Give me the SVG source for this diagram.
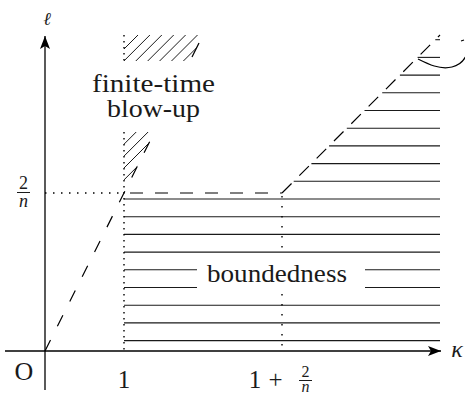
<svg xmlns="http://www.w3.org/2000/svg" width="465" height="398" viewBox="0 0 465 398">
<style>
.ax{stroke:#000;stroke-width:1.3;fill:none}
.hl{stroke:#1a1a1a;stroke-width:1.1;fill:none}
.ht{stroke:#1a1a1a;stroke-width:1;fill:none}
.dash{stroke:#000;stroke-width:1.2;fill:none}
.dot{stroke:#000;stroke-width:1.4;fill:none}
text{fill:#1a1a1a}
</style>
<defs>
<marker id="arr" viewBox="-14 -6 15 12" refX="0" refY="0" markerWidth="15" markerHeight="12" markerUnits="userSpaceOnUse" orient="auto">
<path d="M0,0 L-13,-5 L-10,0 L-13,5 Z" fill="#000"/>
</marker>
<clipPath id="clipTop"><polygon points="124,35 203,35 190.5,61 124,61"/></clipPath>
<clipPath id="clipLow"><polygon points="124,132 154.5,132 124,193"/></clipPath>
</defs>

<g id="blowup-region">
<g clip-path="url(#clipTop)" class="ht">
<line x1="100" y1="73" x2="250" y2="-77"/>
<line x1="100" y1="84.9" x2="250" y2="-65.1"/>
<line x1="100" y1="96.8" x2="250" y2="-53.2"/>
<line x1="100" y1="108.7" x2="250" y2="-41.3"/>
<line x1="100" y1="120.6" x2="250" y2="-29.4"/>
<line x1="100" y1="132.5" x2="250" y2="-17.5"/>
<line x1="100" y1="144.4" x2="250" y2="-5.6"/>
</g>
<g clip-path="url(#clipLow)" class="ht">
<line x1="100" y1="168.2" x2="250" y2="18.2"/>
<line x1="100" y1="180.1" x2="250" y2="30.1"/>
<line x1="100" y1="192" x2="250" y2="42"/>
<line x1="100" y1="203.9" x2="250" y2="53.9"/>
</g>
<text x="153.5" y="92" font-family="'Liberation Serif', 'Times New Roman', serif" font-size="26" text-anchor="middle" textLength="123" lengthAdjust="spacingAndGlyphs">finite-time</text>
<text x="153.5" y="117" font-family="'Liberation Serif', 'Times New Roman', serif" font-size="26" text-anchor="middle" textLength="93" lengthAdjust="spacingAndGlyphs">blow-up</text>
</g>

<g id="boundedness-region">
<g class="hl">
<line x1="124" y1="199" x2="440" y2="199"/>
<line x1="124" y1="216.7" x2="440" y2="216.7"/>
<line x1="124" y1="234.4" x2="440" y2="234.4"/>
<line x1="124" y1="252.1" x2="440" y2="252.1"/>
<line x1="124" y1="269.8" x2="197" y2="269.8"/>
<line x1="365" y1="269.8" x2="440" y2="269.8"/>
<line x1="124" y1="287.5" x2="197" y2="287.5"/>
<line x1="365" y1="287.5" x2="440" y2="287.5"/>
<line x1="124" y1="305.2" x2="440" y2="305.2"/>
<line x1="124" y1="322.9" x2="440" y2="322.9"/>
<line x1="124" y1="340.6" x2="440" y2="340.6"/>
<line x1="293.7" y1="181.3" x2="440" y2="181.3"/>
<line x1="311.4" y1="163.6" x2="440" y2="163.6"/>
<line x1="329.1" y1="145.9" x2="440" y2="145.9"/>
<line x1="346.8" y1="128.2" x2="440" y2="128.2"/>
<line x1="364.5" y1="110.5" x2="440" y2="110.5"/>
<line x1="382.2" y1="92.8" x2="440" y2="92.8"/>
<line x1="399.9" y1="75.1" x2="440" y2="75.1"/>
<line x1="417.6" y1="57.4" x2="440" y2="57.4"/>
<line x1="435.3" y1="39.7" x2="440" y2="39.7"/>
</g>
<text x="277" y="282" font-family="'Liberation Serif', 'Times New Roman', serif" font-size="26" text-anchor="middle" textLength="140" lengthAdjust="spacingAndGlyphs">boundedness</text>
</g>

<g id="connectors">
<line class="ax" x1="45" y1="390" x2="45" y2="36" marker-end="url(#arr)"/>
<line class="ax" x1="5" y1="351" x2="441" y2="351" marker-end="url(#arr)"/>
<line class="dash" x1="45" y1="351" x2="151" y2="139" stroke-dasharray="12.3 15.4"/>
<line class="dash" x1="192" y1="57" x2="199" y2="43"/>
<line class="dash" x1="130" y1="193" x2="282" y2="193" stroke-dasharray="13 12"/>
<line class="dash" x1="282" y1="193" x2="440" y2="35" stroke-dasharray="13.5 11"/>
<line class="dot" x1="45" y1="193" x2="124" y2="193" stroke-dasharray="1.5 6.5"/>
<line class="dot" x1="124" y1="35" x2="124" y2="61" stroke-dasharray="1.5 4.5"/>
<line class="dot" x1="124" y1="132" x2="124" y2="351" stroke-dasharray="1.5 4.5"/>
<line class="dot" x1="282" y1="196" x2="282" y2="248" stroke-dasharray="1.5 8.5"/>
<line class="dot" x1="282" y1="294" x2="282" y2="351" stroke-dasharray="1.5 8.5"/>
<path class="dash" d="M418,59 C428,64 440,70 452,67 C460,65 464,60 466,56"/>
<path class="dash" d="M461,41 L464,40"/>
</g>

<g id="labels">
<text x="47" y="25" font-family="'DejaVu Serif', serif" font-style="italic" font-size="18" text-anchor="middle">ℓ</text>
<text x="457" y="357" font-family="'Liberation Serif', 'Times New Roman', serif" font-style="italic" font-size="24" text-anchor="middle">κ</text>
<text x="24" y="380" font-family="'Liberation Serif', 'Times New Roman', serif" font-size="26" text-anchor="middle">O</text>
<text x="124" y="388" font-family="'Liberation Serif', 'Times New Roman', serif" font-size="25" text-anchor="middle">1</text>
<text x="255" y="388" font-family="'Liberation Serif', 'Times New Roman', serif" font-size="25" text-anchor="middle">1</text>
<text x="275.5" y="388" font-family="'Liberation Serif', 'Times New Roman', serif" font-size="25" text-anchor="middle">+</text>
<text x="305.5" y="377" font-family="'Liberation Serif', 'Times New Roman', serif" font-size="16" text-anchor="middle">2</text>
<line x1="299" y1="380.5" x2="312" y2="380.5" stroke="#1a1a1a" stroke-width="1"/>
<text x="305.5" y="392" font-family="'Liberation Serif', 'Times New Roman', serif" font-style="italic" font-size="16" text-anchor="middle">n</text>
<text x="23.5" y="189" font-family="'Liberation Serif', 'Times New Roman', serif" font-size="18" text-anchor="middle">2</text>
<line x1="17" y1="192.5" x2="30" y2="192.5" stroke="#1a1a1a" stroke-width="1"/>
<text x="23.5" y="207" font-family="'Liberation Serif', 'Times New Roman', serif" font-style="italic" font-size="18" text-anchor="middle">n</text>
</g>
</svg>
